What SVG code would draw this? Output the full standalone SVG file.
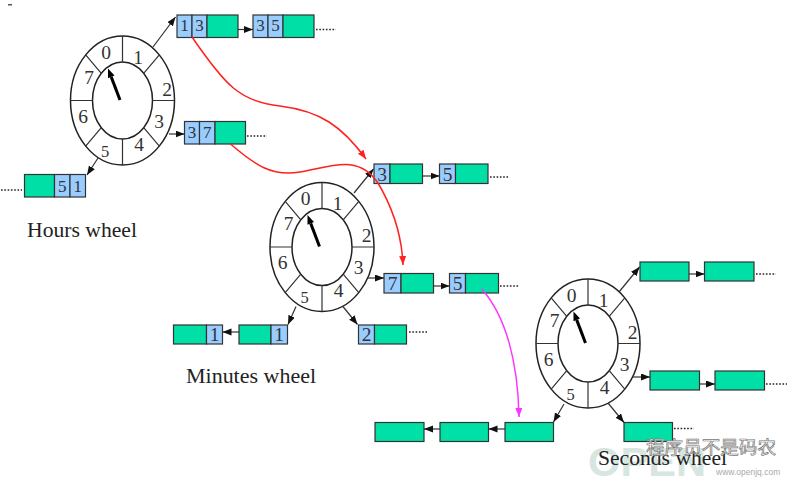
<svg xmlns="http://www.w3.org/2000/svg" width="800" height="482" viewBox="0 0 800 482">
<style>
.b{fill:#99ccff;stroke:#333;stroke-width:1.2}
.g{fill:#00dfa6;stroke:#333;stroke-width:1.2}
.d{font-family:"Liberation Serif",serif;font-size:17px;fill:#333;text-anchor:middle}
.dm{font-family:"Liberation Serif",serif;font-size:19.5px;fill:#333;text-anchor:middle}
.wd{font-family:"Liberation Serif",serif;font-size:19.5px;fill:#333;text-anchor:middle}
.ws{font-family:"Liberation Serif",serif;font-size:16.5px;fill:#333;text-anchor:middle}
.lbl{font-family:"Liberation Serif",serif;font-size:21px;fill:#222}
.ring{fill:#fff;stroke:#222;stroke-width:1.5}
.seg{stroke:#333;stroke-width:1.2;fill:none}
.c{stroke:#333;stroke-width:1.2;fill:none;marker-end:url(#ah)}
.dots{stroke:#222;stroke-width:1.7;stroke-dasharray:1.6 1.7;fill:none}
.red{stroke:#ff2020;stroke-width:1.5;fill:none;marker-end:url(#ahr)}
.mag{stroke:#ff33ff;stroke-width:1.5;fill:none;marker-end:url(#ahm)}
</style>
<defs>
<marker id="ah" markerUnits="userSpaceOnUse" markerWidth="10" markerHeight="8" refX="9" refY="3.5" orient="auto"><path d="M0,0 L9,3.5 L0,7 z" fill="#111"/></marker>
<marker id="ahr" markerUnits="userSpaceOnUse" markerWidth="10" markerHeight="8" refX="9" refY="3.5" orient="auto"><path d="M0,0 L9,3.5 L0,7 z" fill="#ff2020"/></marker>
<marker id="ahm" markerUnits="userSpaceOnUse" markerWidth="10" markerHeight="8" refX="9" refY="3.5" orient="auto"><path d="M0,0 L9,3.5 L0,7 z" fill="#ff33ff"/></marker>
<g id="wheelshape">
<ellipse class="ring" cx="0" cy="0" rx="52" ry="64.5"/>
<ellipse class="ring" cx="0" cy="0" rx="30" ry="38.5"/>
<path class="seg" d="M0,-38.5V-64.5 M0,38.5V64.5 M-30,0H-52 M30,0H52 M21.2,-27.2L36.8,-45.6 M21.2,27.2L36.8,45.6 M-21.2,27.2L-36.8,45.6 M-21.2,-27.2L-36.8,-45.6"/>
<line x1="-2.5" y1="-0.5" x2="-11.3" y2="-23.6" stroke="#000" stroke-width="3"/>
<polygon points="-14.5,-32 -8,-24.9 -14.5,-22.3" fill="#000"/>
</g>
</defs>
<rect x="8" y="4" width="4" height="1.5" fill="#555"/>

<g id="hours-wheel" transform="translate(122.5,100.5)">
<use href="#wheelshape"/>
<text class="wd" x="-16.5" y="-41.9">0</text><text class="wd" x="15.5" y="-36.9">1</text><text class="wd" x="44.5" y="-4.9">2</text><text class="wd" x="36.5" y="27.1">3</text><text class="wd" x="16.5" y="50.1">4</text><text class="ws" x="-17.5" y="56.1">5</text><text class="wd" x="-39.5" y="22.1">6</text><text class="wd" x="-33.5" y="-16.9">7</text>
</g>
<g id="minutes-wheel" transform="translate(322,247)">
<use href="#wheelshape"/>
<text class="wd" x="-16.5" y="-41.9">0</text><text class="wd" x="15.5" y="-36.9">1</text><text class="wd" x="44.5" y="-4.9">2</text><text class="wd" x="36.5" y="27.1">3</text><text class="wd" x="16.5" y="50.1">4</text><text class="ws" x="-17.5" y="56.1">5</text><text class="wd" x="-39.5" y="22.1">6</text><text class="wd" x="-33.5" y="-16.9">7</text>
</g>
<g id="seconds-wheel" transform="translate(588,343.5)">
<use href="#wheelshape"/>
<text class="wd" x="-16.5" y="-41.9">0</text><text class="wd" x="15.5" y="-36.9">1</text><text class="wd" x="44.5" y="-4.9">2</text><text class="wd" x="36.5" y="27.1">3</text><text class="wd" x="16.5" y="50.1">4</text><text class="ws" x="-17.5" y="56.1">5</text><text class="wd" x="-39.5" y="22.1">6</text><text class="wd" x="-33.5" y="-16.9">7</text>
</g>

<!-- Hours lists -->
<g id="h-1-13"><rect class="b" x="177" y="15" width="15" height="22.5"/><rect class="b" x="192" y="15" width="15" height="22.5"/><rect class="g" x="207" y="15" width="31" height="22.5"/><text class="d" x="184.5" y="31">1</text><text class="d" x="199.5" y="31">3</text></g>
<g id="h-1-35"><rect class="b" x="253" y="15" width="15" height="22.5"/><rect class="b" x="268" y="15" width="15" height="22.5"/><rect class="g" x="283" y="15" width="31" height="22.5"/><text class="d" x="260.5" y="31">3</text><text class="d" x="275.5" y="31">5</text></g>
<g id="h-3-37"><rect class="b" x="184.5" y="121.5" width="15" height="22.5"/><rect class="b" x="199.5" y="121.5" width="15.5" height="22.5"/><rect class="g" x="215" y="121.5" width="30.5" height="22.5"/><text class="d" x="192" y="138">3</text><text class="d" x="207.2" y="138">7</text></g>
<g id="h-5-51"><rect class="g" x="24.5" y="174.5" width="30" height="22.5"/><rect class="b" x="54.5" y="174.5" width="15.5" height="22.5"/><rect class="b" x="70" y="174.5" width="15.5" height="22.5"/><text class="d" x="62.2" y="191.5">5</text><text class="d" x="77.7" y="191.5">1</text></g>

<!-- Minutes lists -->
<g id="m-1-3"><rect class="b" x="374" y="164" width="16" height="19.5"/><rect class="g" x="390" y="164" width="32.5" height="19.5"/><text class="dm" x="382" y="180.5">3</text></g>
<g id="m-1-5"><rect class="b" x="439.5" y="164" width="16" height="19.5"/><rect class="g" x="455.5" y="164" width="32.5" height="19.5"/><text class="dm" x="447.5" y="180.5">5</text></g>
<g id="m-3-7"><rect class="b" x="384" y="273.5" width="17" height="19.5"/><rect class="g" x="401" y="273.5" width="32.5" height="19.5"/><text class="dm" x="392.5" y="290">7</text></g>
<g id="m-3-5"><rect class="b" x="449.5" y="273.5" width="16" height="19.5"/><rect class="g" x="465.5" y="273.5" width="33" height="19.5"/><text class="dm" x="457.5" y="290">5</text></g>
<g id="m-4-2"><rect class="b" x="358.5" y="325" width="16" height="19"/><rect class="g" x="374.5" y="325" width="32" height="19"/><text class="dm" x="366.5" y="340.5">2</text></g>
<g id="m-5-1a"><rect class="g" x="239" y="325" width="32" height="19"/><rect class="b" x="271" y="325" width="16.5" height="19"/><text class="dm" x="279.2" y="340.5">1</text></g>
<g id="m-5-1b"><rect class="g" x="173.5" y="325" width="33" height="19"/><rect class="b" x="206.5" y="325" width="16" height="19"/><text class="dm" x="214.5" y="340.5">1</text></g>

<!-- Seconds lists -->
<g id="s-1-a"><rect class="g" x="640" y="262" width="49" height="19"/></g>
<g id="s-1-b"><rect class="g" x="704.5" y="262" width="49.5" height="19"/></g>
<g id="s-3-a"><rect class="g" x="650" y="371" width="49.5" height="19"/></g>
<g id="s-3-b"><rect class="g" x="715" y="371" width="49.5" height="19"/></g>
<g id="s-4-a"><rect class="g" x="624" y="422.5" width="48.5" height="19"/></g>
<g id="s-5-a"><rect class="g" x="505" y="422.5" width="48.5" height="19"/></g>
<g id="s-5-b"><rect class="g" x="440" y="422.5" width="48.5" height="19"/></g>
<g id="s-5-c"><rect class="g" x="375" y="422.5" width="49" height="19"/></g>

<g id="connectors">
<line class="c" x1="153" y1="47" x2="175.5" y2="17"/>
<line class="c" x1="238" y1="29.5" x2="253" y2="29.5"/>
<line class="c" x1="169" y1="134" x2="184.5" y2="134"/>
<line class="c" x1="98" y1="158" x2="87" y2="175"/>
<line class="c" x1="354" y1="193" x2="373.5" y2="169"/>
<line class="c" x1="422.5" y1="176" x2="439.5" y2="176"/>
<line class="c" x1="368" y1="278" x2="384" y2="278"/>
<line class="c" x1="433.5" y1="286" x2="449.5" y2="286"/>
<line class="c" x1="342.5" y1="306" x2="357.5" y2="324.5"/>
<line class="c" x1="296" y1="306.5" x2="288" y2="324.5"/>
<line class="c" x1="239" y1="332" x2="222.5" y2="332"/>
<line class="c" x1="619" y1="292" x2="639.5" y2="267"/>
<line class="c" x1="689" y1="274" x2="704.5" y2="274"/>
<line class="c" x1="633" y1="377" x2="650" y2="377"/>
<line class="c" x1="699.5" y1="384" x2="715" y2="384"/>
<line class="c" x1="608" y1="403" x2="624" y2="422.5"/>
<line class="c" x1="564" y1="404" x2="553.5" y2="422"/>
<line class="c" x1="505" y1="429" x2="488.5" y2="429"/>
<line class="c" x1="440" y1="429" x2="424" y2="429"/>
<path class="dots" d="M316,29.5H336 M247,136H267 M1,190H22 M490,177H509 M500,286H519 M409,332H427 M756,274H776 M766,384H787 M674,428.5H694"/>
<path class="red" d="M192,37 C225,85 240,102 280,106 C320,111 342,126 366,159"/>
<path class="red" d="M230.5,144 C255,165 272,177 300,172 C330,167 358,153 378,183 C394,210 402,240 403,265"/>
<path class="mag" d="M481.7,289 C505,315 518,360 519,417"/>
</g>

<text class="lbl" x="27" y="237" textLength="110" lengthAdjust="spacingAndGlyphs">Hours wheel</text>
<text class="lbl" x="186" y="382.5" textLength="130" lengthAdjust="spacingAndGlyphs">Minutes wheel</text>
<text font-family="Liberation Sans, sans-serif" font-weight="bold" font-size="40" fill="#a8c8bc" opacity="0.45" x="588" y="476" textLength="118" lengthAdjust="spacingAndGlyphs">OPEN</text>
<text class="lbl" x="598" y="465" textLength="129" lengthAdjust="spacingAndGlyphs">Seconds wheel</text>
<text font-family="Noto Sans CJK SC, sans-serif" font-size="18" fill="#fff" stroke="#777" stroke-width="0.7" x="646" y="454" textLength="130" lengthAdjust="spacingAndGlyphs">程序员不是码农</text>
<text font-family="Liberation Sans, sans-serif" font-size="8.5" fill="#aaa" x="716" y="475">www.openjq.com</text>
</svg>
